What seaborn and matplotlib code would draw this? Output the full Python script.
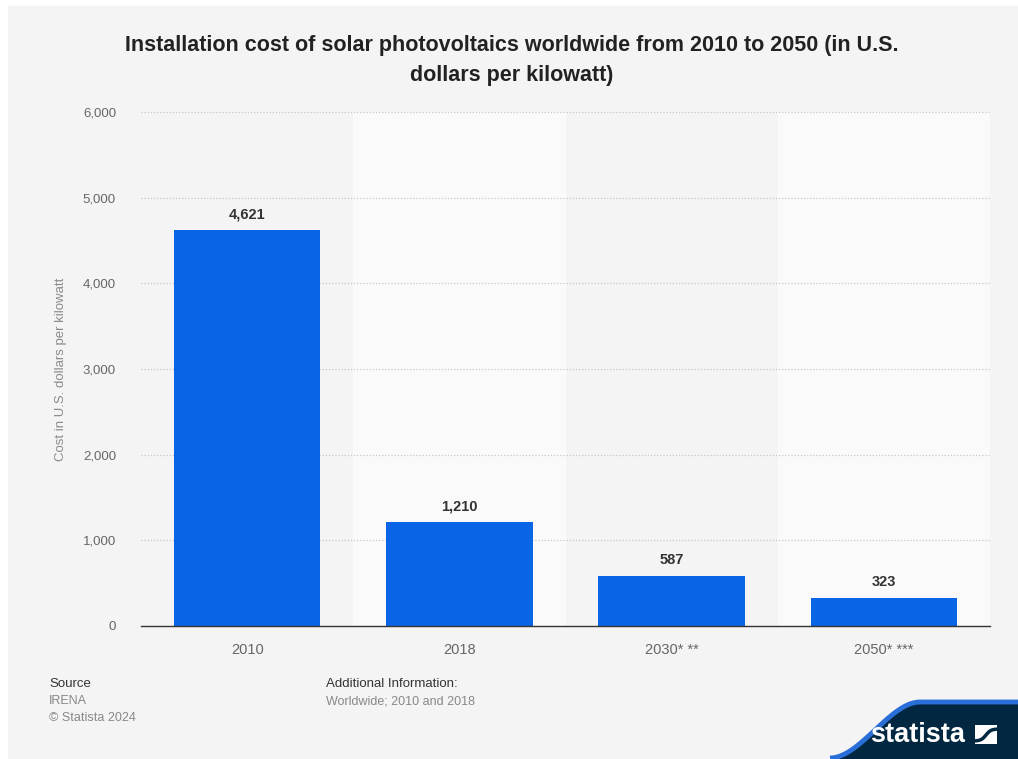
import matplotlib
matplotlib.use("Agg")
import matplotlib.pyplot as plt
import seaborn as sns
import numpy as np
import pandas as pd
from matplotlib.patches import Rectangle, Polygon

categories = ["2010", "2018", "2030* **", "2050* ***"]
values = [4621, 1210, 587, 323]
value_labels = ["4,621", "1,210", "587", "323"]
yticks = [0, 1000, 2000, 3000, 4000, 5000, 6000]
ytick_labels = ["0", "1,000", "2,000", "3,000", "4,000", "5,000", "6,000"]

sns.set_theme(style="white")
plt.rcParams['font.family'] = ['Liberation Sans', 'DejaVu Sans']

W, H = 1018, 759
fig = plt.figure(figsize=(W / 100, H / 100), dpi=100)
fig.patch.set_facecolor("white")

# gray panel
fig.patches.append(Rectangle((8 / W, 0), 1 - 8 / W, 1 - 6 / H, transform=fig.transFigure,
                             facecolor="#f4f4f4", edgecolor="none", zorder=-5))

ax = fig.add_axes([141 / W, 1 - 626 / H, (990 - 141) / W, (626 - 112) / H])
ax.set_facecolor("none")

df = pd.DataFrame({"year": categories, "cost": values})

# alternating column bands
for i in range(len(categories)):
    if i % 2 == 1:
        ax.axvspan(i - 0.5, i + 0.5, color="#fafafa", zorder=0, lw=0)

sns.barplot(data=df, x="year", y="cost", color="#0866e6", width=0.69, ax=ax,
            saturation=1, zorder=3, edgecolor="none")

ax.set_xlim(-0.5, len(categories) - 0.5)
ax.set_ylim(0, 6000)
ax.set_yticks(yticks)
ax.set_yticklabels(ytick_labels)
for y in yticks[1:]:
    ax.axhline(y, color="#c8c8c8", lw=0.9, ls=(0, (1, 1.5)), zorder=1)

for s in ["top", "right", "left"]:
    ax.spines[s].set_visible(False)
ax.spines["bottom"].set_color("#333333")
ax.spines["bottom"].set_linewidth(1.0)
ax.spines["bottom"].set_zorder(5)

ax.tick_params(axis="y", length=0, pad=18, labelsize=9.5, labelcolor="#666666")
ax.tick_params(axis="x", length=0, pad=12.5, labelsize=10.5, labelcolor="#666666")
ax.set_xlabel("")
ax.set_ylabel("Cost in U.S. dollars per kilowatt", fontsize=9.5, color="#8a8a8a", labelpad=11)

for i, (v, lab) in enumerate(zip(values, value_labels)):
    ax.annotate(lab, (i, v), xytext=(0, 6.5), textcoords="offset points",
                ha="center", va="bottom", fontsize=10.5, fontweight="bold", color="#333333")

fig.text(512 / W, 1 - 45 / H, "Installation cost of solar photovoltaics worldwide from 2010 to 2050 (in U.S.",
         ha="center", va="center", fontsize=15.5, fontweight="bold", color="#222222")
fig.text(512 / W, 1 - 75 / H, "dollars per kilowatt)",
         ha="center", va="center", fontsize=15.5, fontweight="bold", color="#222222")

fig.text(49 / W, 1 - 684 / H, "Source", ha="left", va="center", fontsize=9.5, color="#333333")
fig.text(49 / W, 1 - 701 / H, "IRENA", ha="left", va="center", fontsize=9, color="#888888")
fig.text(49 / W, 1 - 718 / H, "© Statista 2024", ha="left", va="center", fontsize=9, color="#888888")
fig.text(326 / W, 1 - 684 / H, "Additional Information:", ha="left", va="center", fontsize=9.5, color="#333333")
fig.text(326 / W, 1 - 701 / H, "Worldwide; 2010 and 2018", ha="left", va="center", fontsize=9, color="#888888")

# statista logo band
lax = fig.add_axes([0, 0, 1, 1], facecolor="none")
lax.set_xlim(0, W)
lax.set_ylim(H, 0)
lax.axis("off")
xs = np.linspace(830, W, 300)
t = np.clip((xs - 830) / (920 - 830), 0, 1)
ys = 759 - (759 - 703) * (3 * t ** 2 - 2 * t ** 3)
lax.fill_between(xs, ys, 759, color="#012840", lw=0)
lax.plot(xs, ys - 1, color="#2a6fd8", lw=3.5, solid_capstyle="butt")
lax.text(918, 735, "statista", ha="center", va="center", fontsize=19.5, fontweight="bold", color="white")
lax.add_patch(Rectangle((975, 725), 22, 19, facecolor="white", edgecolor="none"))
cx = np.linspace(975, 997, 50)
cy = 741 - 12 * (1 / (1 + np.exp(-(cx - 986) / 2.5)))
lax.plot(cx, cy, color="#012840", lw=2.5)

fig.savefig("out.png", dpi=100, facecolor=fig.get_facecolor())
